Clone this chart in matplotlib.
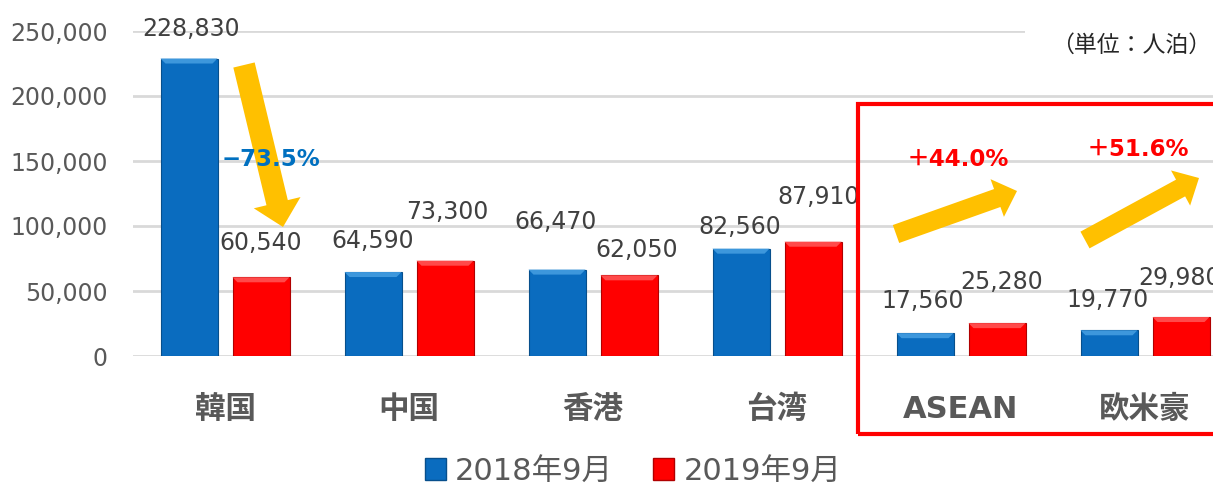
import matplotlib
matplotlib.use("Agg")
import matplotlib.pyplot as plt
from matplotlib.patches import Patch, Polygon, Rectangle
from matplotlib.ticker import FuncFormatter

plt.rcParams["font.family"] = ["DejaVu Sans", "Noto Sans CJK JP"]

# --------------------------------------------------------------------------- #
# data
# --------------------------------------------------------------------------- #
categories = ["韓国", "中国", "香港", "台湾", "ASEAN", "欧米豪"]
series_names = ["2018年9月", "2019年9月"]
values_2018 = [228830, 64590, 66470, 82560, 17560, 19770]
values_2019 = [60540, 73300, 62050, 87910, 25280, 29980]
yticks = [0, 50000, 100000, 150000, 200000, 250000]
unit_label = "（単位：人泊）"
changes = ["−73.5%", "＋44.0%", "＋51.6%"]

# --------------------------------------------------------------------------- #
# styling / placement
# --------------------------------------------------------------------------- #
W, H, DPI = 1213, 488, 100
BLUE, BLUE_TOP, BLUE_EDGE = "#0a6cbf", "#3d97dc", "#074f8c"
RED, RED_TOP, RED_EDGE = "#ff0000", "#ff4a4a", "#b00000"
YELLOW = "#ffc000"
GREY = "#595959"

# label offsets in pixels from the bar top (dx, dy)
off_2018 = [(2, 30), (0, 31), (-1, 48), (-1, 22), (-2, 32), (-1, 30)]
off_2019 = [(0, 34), (2, 49), (8, 25), (6, 45), (5, 41), (-1, 39)]

fig = plt.figure(figsize=(W / DPI, H / DPI), dpi=DPI)
ax_left, ax_right, ax_bottom, ax_top = 133, 1213, 356, 31
ax = fig.add_axes([ax_left / W, 1 - ax_bottom / H,
                   (ax_right - ax_left) / W, (ax_bottom - ax_top) / H])

cat_px = 184.0
ax.set_xlim(-0.5, -0.5 + (ax_right - ax_left) / cat_px)
ax.set_ylim(0, 250000)

x = list(range(len(categories)))
bw = 57 / cat_px
shift = 36 / cat_px
units_per_px = 250000 / (ax_bottom - ax_top)


def bevel_bars(xs, vals, face, top, edge):
    ax.bar(xs, vals, width=bw, color=face, edgecolor=edge, linewidth=0.8,
           zorder=3)
    band = 5 * units_per_px
    inset = 5 / cat_px
    for xi, v in zip(xs, vals):
        x0, x1 = xi - bw / 2, xi + bw / 2
        b = min(band, v * 0.5)
        poly = Polygon([(x0, v), (x1, v), (x1 - inset, v - b), (x0 + inset, v - b)],
                       closed=True, facecolor=top, edgecolor="none", zorder=4)
        ax.add_patch(poly)


x18 = [i - shift for i in x]
x19 = [i + shift for i in x]
bevel_bars(x18, values_2018, BLUE, BLUE_TOP, BLUE_EDGE)
bevel_bars(x19, values_2019, RED, RED_TOP, RED_EDGE)

for xs, vals, offs in ((x18, values_2018, off_2018), (x19, values_2019, off_2019)):
    for xi, v, (dx, dy) in zip(xs, vals, offs):
        ax.annotate(f"{v:,}", (xi, v), xytext=(dx, dy), textcoords="offset pixels",
                    ha="center", va="center", fontsize=17, color="#404040",
                    annotation_clip=False, zorder=6)

# axes styling
ax.set_yticks(yticks)
ax.yaxis.set_major_formatter(FuncFormatter(lambda v, _: f"{int(v):,}"))
ax.set_xticks(x)
ax.set_xticklabels(categories, fontsize=22, fontweight="bold", color=GREY)
ax.tick_params(axis="x", length=0, pad=28)
ax.tick_params(axis="y", length=0, pad=18, labelsize=17, labelcolor=GREY)
ax.grid(axis="y", color="#d9d9d9", linewidth=2, zorder=0)
ax.set_axisbelow(True)
for s in ax.spines.values():
    s.set_visible(False)


def to_data(px, py):
    return ((px - 224) / cat_px, (ax_bottom - py) * units_per_px)


# yellow arrows (tail px, tip px, tail width, head width, head length in px)
arrows = [((243, 65), (282, 227), 22, 48, 25),
          ((895, 234), (1016, 191), 19, 40, 21),
          ((1084, 240), (1198, 178), 19, 40, 21)]
for tail, tip, tw, hw, hl in arrows:
    pt = 72 / DPI
    style = f"simple,tail_width={tw * pt / 10:.2f},head_width={hw * pt / 10:.2f},head_length={hl * pt / 10:.2f}"
    ax.annotate("", xy=to_data(*tip), xytext=to_data(*tail),
                arrowprops=dict(arrowstyle=style, mutation_scale=10, color=YELLOW,
                                shrinkA=0, shrinkB=0, linewidth=0),
                annotation_clip=False, zorder=7)

change_pos = [(270, 160), (957, 160), (1137, 150)]
change_col = ["#0070c0", "#ff0000", "#ff0000"]
for txt, (px, py), c in zip(changes, change_pos, change_col):
    ax.text(*to_data(px, py), txt, ha="center", va="center", fontsize=16.5,
            fontweight="bold", color=c, zorder=8)

# red highlight box around ASEAN / 欧米豪
fig.patches.append(Rectangle((858 / W, 1 - 434 / H), (1230 - 858) / W, 330 / H,
                             transform=fig.transFigure, fill=False,
                             edgecolor="#ff0000", linewidth=3))

# unit label (white box hides the end of the top gridline)
fig.text(1211 / W, 1 - 45 / H, unit_label, ha="right", va="center", fontsize=16.5,
         color="#262626", family=["Noto Sans CJK JP"],
         bbox=dict(facecolor="white", edgecolor="none", pad=19))

handles = [Patch(facecolor=BLUE, edgecolor=BLUE_EDGE),
           Patch(facecolor=RED, edgecolor=RED_EDGE)]
leg = fig.legend(handles, series_names, loc="center",
                 bbox_to_anchor=(633 / W, 1 - 471 / H), ncol=2, frameon=False,
                 fontsize=22, handlelength=0.7, handleheight=0.7,
                 handletextpad=0.3, columnspacing=1.3, borderpad=0)
for t in leg.get_texts():
    t.set_color(GREY)

fig.savefig("out.png", dpi=DPI)
